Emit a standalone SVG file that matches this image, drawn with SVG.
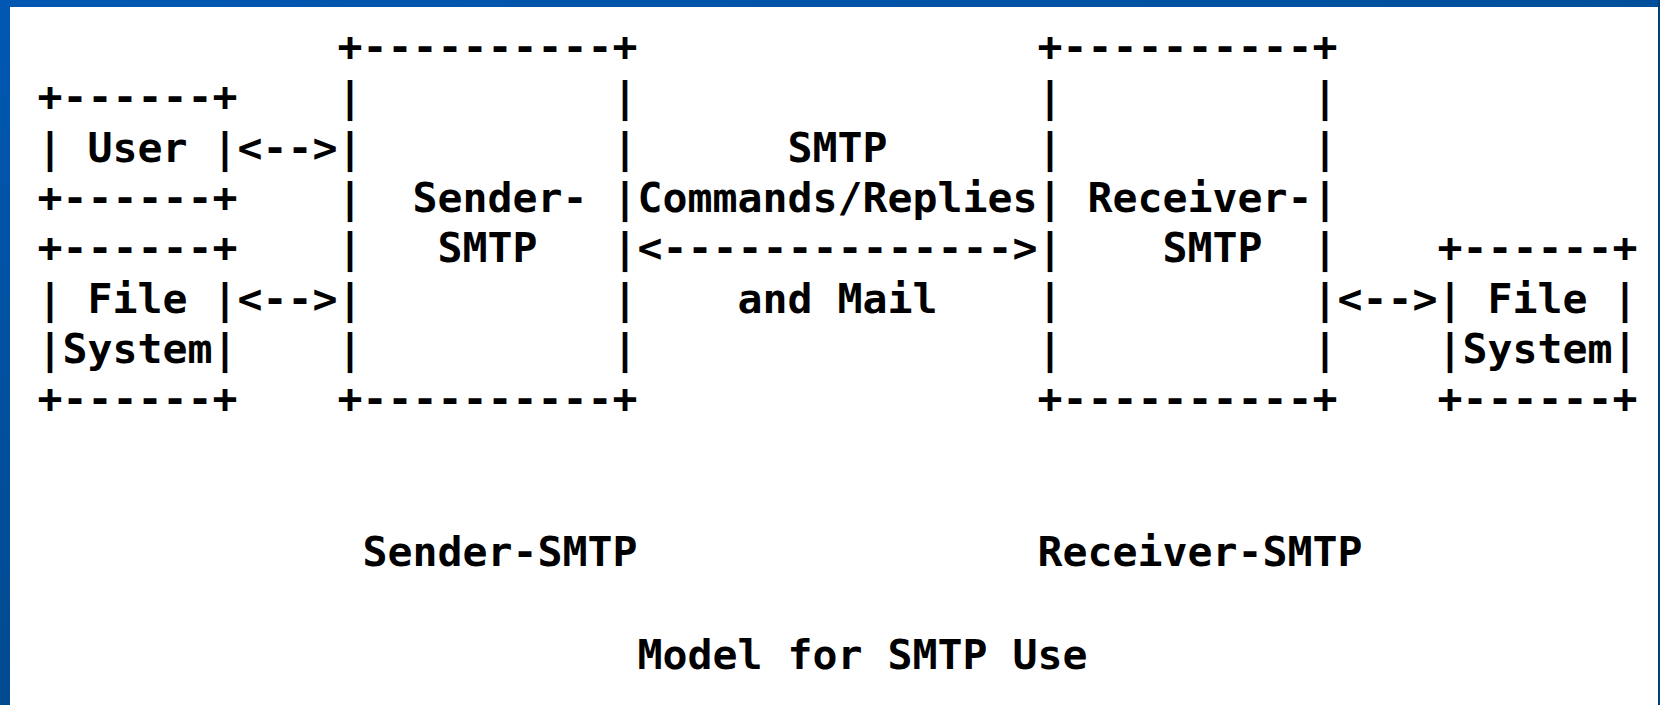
<svg xmlns="http://www.w3.org/2000/svg" width="1660" height="705" viewBox="0 0 1660 705" xml:space="preserve">
<defs>
<linearGradient id="topg" x1="0" y1="0" x2="1" y2="0">
<stop offset="0" stop-color="#0058b2"/>
<stop offset="1" stop-color="#004f9c"/>
</linearGradient>
<linearGradient id="leftg" x1="0" y1="0" x2="0" y2="1">
<stop offset="0" stop-color="#0058b2"/>
<stop offset="1" stop-color="#004a90"/>
</linearGradient>
</defs>
<style>
text{font-family:"DejaVu Sans Mono","Liberation Mono",monospace;font-weight:bold;font-size:41.52px;fill:#000;white-space:pre}
</style>
<rect x="0" y="0" width="1660" height="705" fill="#ffffff"/>
<rect x="0" y="0" width="1660" height="7" fill="url(#topg)"/>
<rect x="0" y="0" width="10" height="705" fill="url(#leftg)"/>
<rect x="1658" y="0" width="2" height="705" fill="#00407a"/>

<g id="user">
<text x="37.5" y="111.3">+------+</text>
<text x="37.5" y="161.6">| User |</text>
<text x="37.5" y="211.9">+------+</text>
</g>

<g id="file-left">
<text x="37.5" y="262.2">+------+</text>
<text x="37.5" y="312.5">| File |</text>
<text x="37.5" y="362.8">|System|</text>
<text x="37.5" y="413.1">+------+</text>
</g>

<g id="sender-smtp">
<text x="337.5" y="61">+----------+</text>
<text x="337.5" y="111.3">|          |</text>
<text x="337.5" y="161.6">|          |</text>
<text x="337.5" y="211.9">|  Sender- |</text>
<text x="337.5" y="262.2">|   SMTP   |</text>
<text x="337.5" y="312.5">|          |</text>
<text x="337.5" y="362.8">|          |</text>
<text x="337.5" y="413.1">+----------+</text>
</g>

<g id="receiver-smtp">
<text x="1037.5" y="61">+----------+</text>
<text x="1037.5" y="111.3">|          |</text>
<text x="1037.5" y="161.6">|          |</text>
<text x="1037.5" y="211.9">| Receiver-|</text>
<text x="1037.5" y="262.2">|    SMTP  |</text>
<text x="1037.5" y="312.5">|          |</text>
<text x="1037.5" y="362.8">|          |</text>
<text x="1037.5" y="413.1">+----------+</text>
</g>

<g id="file-right">
<text x="1437.5" y="262.2">+------+</text>
<text x="1437.5" y="312.5">| File |</text>
<text x="1437.5" y="362.8">|System|</text>
<text x="1437.5" y="413.1">+------+</text>
</g>

<g id="connectors">
<text x="237.5" y="161.6">&lt;--&gt;</text>
<text x="237.5" y="312.5">&lt;--&gt;</text>
<text x="637.5" y="262.2">&lt;--------------&gt;</text>
<text x="1337.5" y="312.5">&lt;--&gt;</text>
</g>

<g id="labels">
<text x="787.5" y="161.6">SMTP</text>
<text x="637.5" y="211.9">Commands/Replies</text>
<text x="737.5" y="312.5">and Mail</text>
<text x="362.5" y="566">Sender-SMTP</text>
<text x="1037.5" y="566">Receiver-SMTP</text>
<text x="637.5" y="668.5">Model for SMTP Use</text>
</g>
</svg>
